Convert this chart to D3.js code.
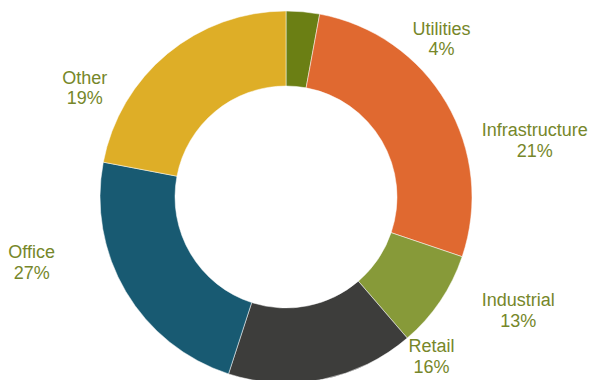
<!DOCTYPE html>
<html>
<head>
<meta charset="utf-8">
<script src="https://cdn.jsdelivr.net/npm/d3@7"></script>
<style>
  html, body { margin: 0; padding: 0; background: #fff; }
  svg { display: block; }
</style>
</head>
<body>
<svg id="chart" width="590" height="380"></svg>
<script>
// Data
const categories = ["Utilities", "Infrastructure", "Industrial", "Retail", "Office", "Other"];
const sliceShares = [2.9, 27.3, 8.5, 16.3, 23.0, 22.0];      // share of the ring drawn
const labelPercents = ["4%", "21%", "13%", "16%", "27%", "19%"]; // printed labels
const colors = ["#6B7F14", "#E06930", "#879A39", "#3D3D3B", "#185A72", "#DEAE27"];

// Layout (label anchor positions, x centre and first-line baseline)
const labelPos = [
  [441.5, 34.6], [534.7, 136], [518.3, 306], [431.5, 351.7], [31.7, 258.3], [84.8, 83.5]
];

const W = 590, H = 380;
const cx = 286, cy = 197, rOuter = 186, rInner = 111;

const svg = d3.select("#chart");
const g = svg.append("g").attr("transform", `translate(${cx},${cy})`);

const data = categories.map((c, i) => ({ name: c, value: sliceShares[i], pct: labelPercents[i], color: colors[i] }));

const pie = d3.pie().value(d => d.value).sort(null).startAngle(0).endAngle(2 * Math.PI);
const arc = d3.arc().innerRadius(rInner).outerRadius(rOuter);

g.selectAll("path.slice")
  .data(pie(data))
  .join("path")
  .attr("class", "slice")
  .attr("d", arc)
  .attr("fill", d => d.data.color)
  .attr("stroke", "#ffffff")
  .attr("stroke-width", 0.5);

const labels = svg.append("g")
  .attr("font-family", "'Liberation Sans', Arial, sans-serif")
  .attr("font-size", 18)
  .attr("fill", "#76872A")
  .attr("text-anchor", "middle");

data.forEach((d, i) => {
  const t = labels.append("text")
    .attr("x", labelPos[i][0])
    .attr("y", labelPos[i][1]);
  t.append("tspan").attr("x", labelPos[i][0]).attr("dy", 0).text(d.name);
  t.append("tspan").attr("x", labelPos[i][0]).attr("dy", 20.8).text(d.pct);
});
</script>
</body>
</html>
